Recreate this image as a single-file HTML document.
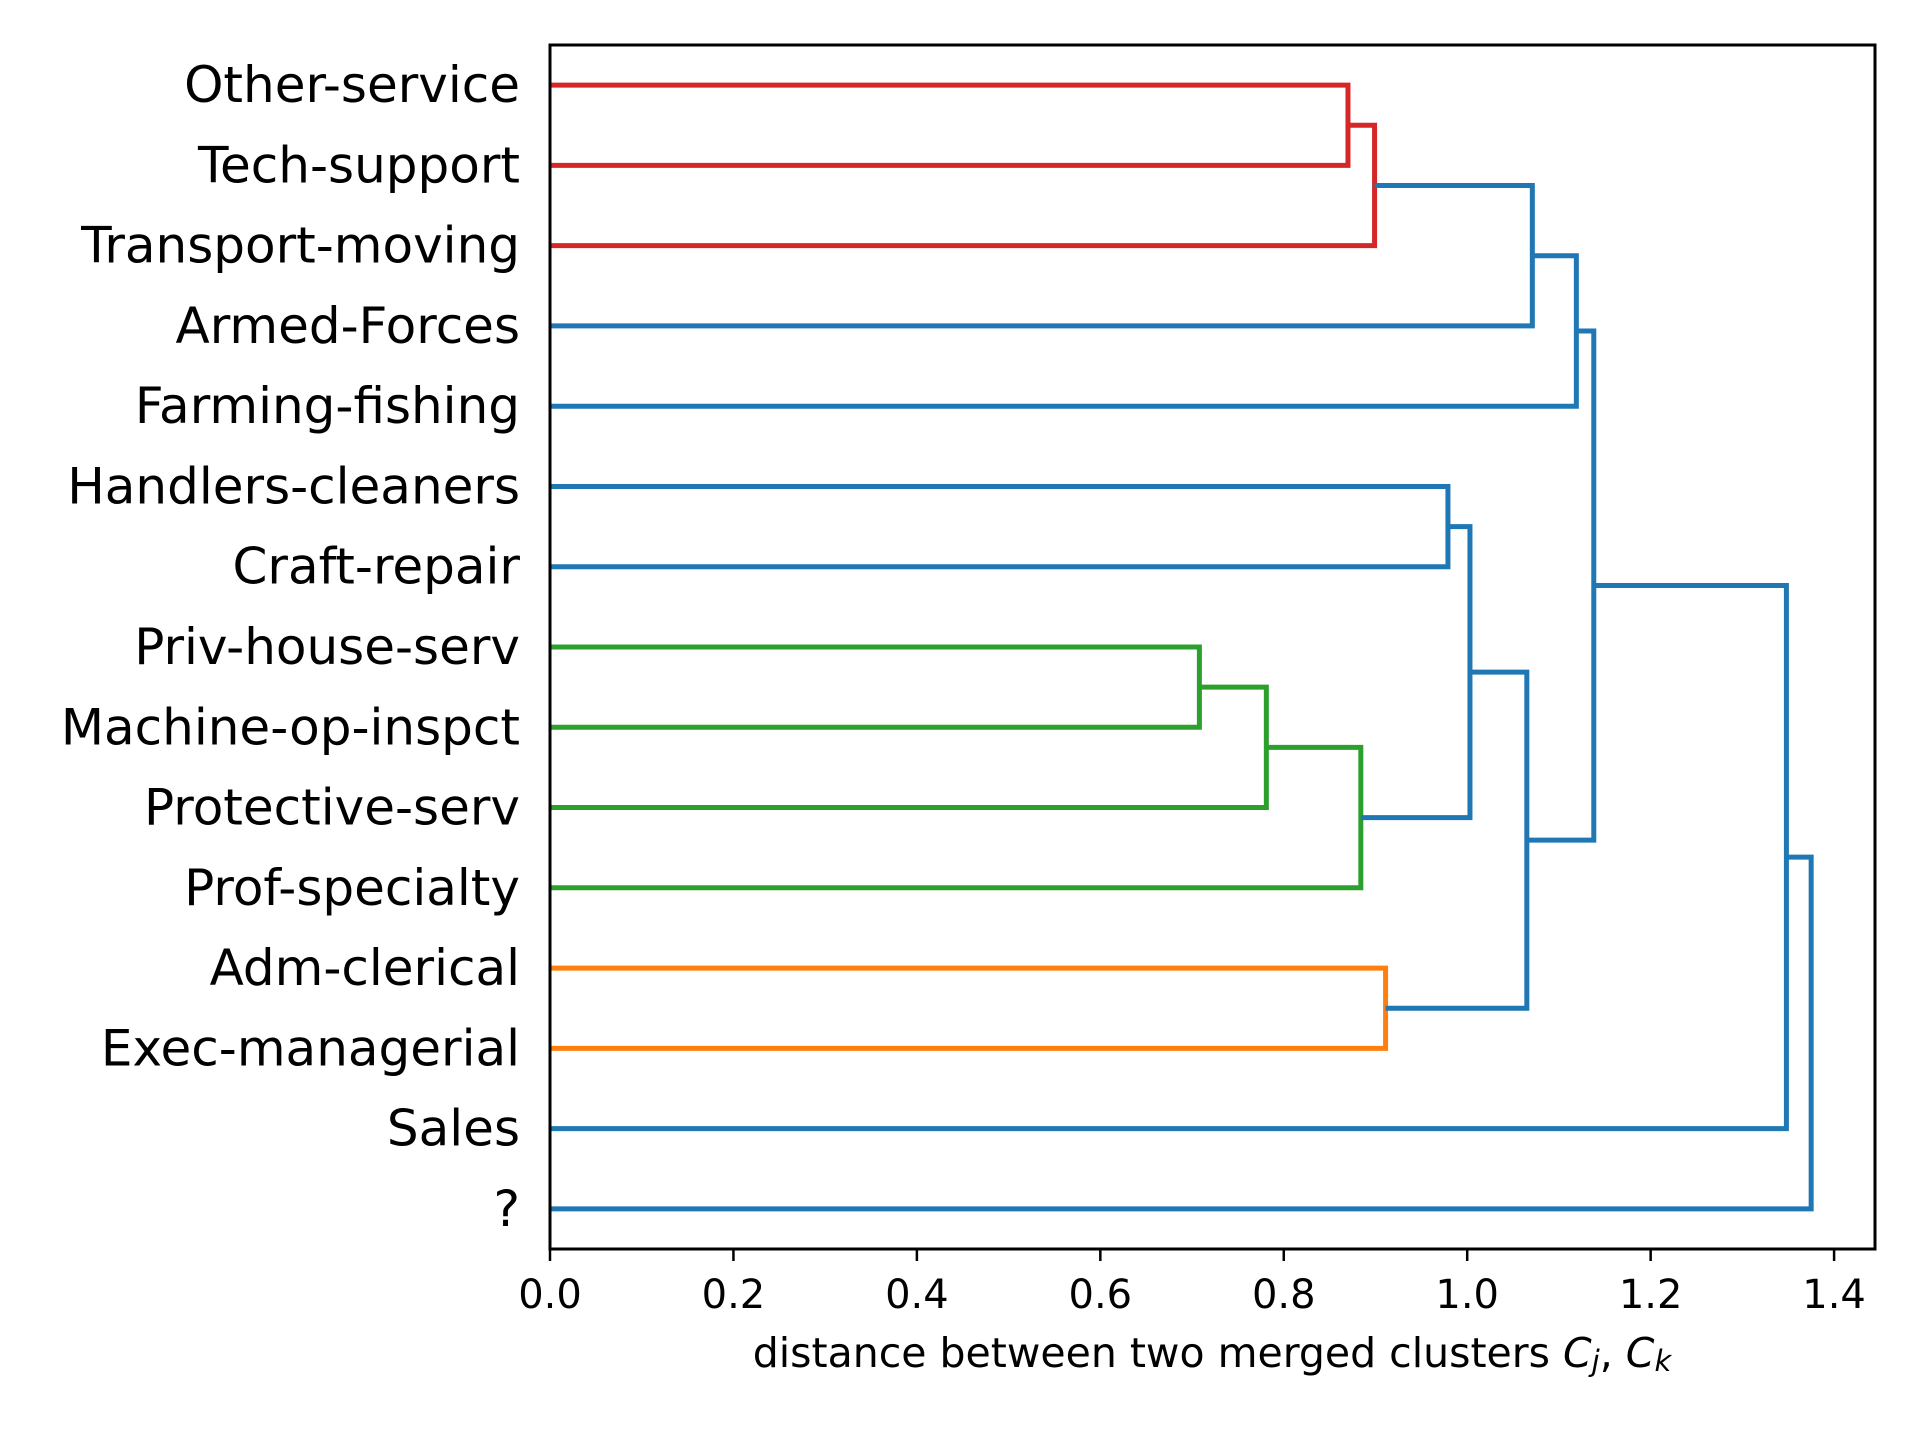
<!DOCTYPE html>
<html><head><meta charset="utf-8"><style>
html,body{margin:0;padding:0;background:#fff;}
svg{display:block;font-family:"DejaVu Sans","Liberation Sans",sans-serif;}
</style></head><body>
<svg id="chart" width="1920" height="1440" viewBox="0 0 1920 1440">
<rect x="0" y="0" width="1920" height="1440" fill="#fff"/>
<g id="links"></g>
<rect x="550" y="45" width="1325" height="1204" fill="none" stroke="#000" stroke-width="3"/>
<g id="yticks"></g>
<g id="xticks"></g>
<text x="1212" y="1353" font-size="41" text-anchor="middle" dominant-baseline="central">distance between two merged clusters <tspan font-style="italic">C</tspan><tspan font-style="italic" font-size="29" dy="8">j</tspan><tspan dy="-8">, </tspan><tspan font-style="italic">C</tspan><tspan font-style="italic" font-size="29" dy="8">k</tspan></text>
</svg>
<script>
const leaves = ["Other-service","Tech-support","Transport-moving","Armed-Forces","Farming-fishing","Handlers-cleaners","Craft-repair","Priv-house-serv","Machine-op-inspct","Protective-serv","Prof-specialty","Adm-clerical","Exec-managerial","Sales","?"];
const mergeLeft = [0,15,16,17,5,7,20,21,19,11,23,18,26,27];
const mergeRight = [1,2,3,4,6,8,9,10,22,12,24,25,13,14];
const mergeHeight = [0.870,0.899,1.071,1.119,0.979,0.708,0.781,0.884,1.003,0.911,1.065,1.138,1.348,1.375];
const mergeColor = ["red","red","blue","blue","blue","green","green","green","blue","orange","blue","blue","blue","blue"];
const xTicks = [0.0,0.2,0.4,0.6,0.8,1.0,1.2,1.4];
const xTickLabels = ["0.0","0.2","0.4","0.6","0.8","1.0","1.2","1.4"];

const palette = {red:"#d62728",green:"#2ca02c",orange:"#ff7f0e",blue:"#1f77b4"};
const X0=550, X1=1875, XMAX=1.4446, Y0=45, Y1=1249;
const xs = v => X0 + v/XMAX*(X1-X0);
const ys = i => Y0 + (5+10*i)/(10*leaves.length)*(Y1-Y0);
const NS="http://www.w3.org/2000/svg";
const links=document.getElementById('links');
const nodeY=[], nodeX=[];
leaves.forEach((l,i)=>{nodeY[i]=ys(i);nodeX[i]=xs(0);});
mergeHeight.forEach((h,k)=>{
  const a=mergeLeft[k], b=mergeRight[k], id=leaves.length+k;
  const xh=xs(h);
  nodeY[id]=(nodeY[a]+nodeY[b])/2; nodeX[id]=xh;
  const p=document.createElementNS(NS,'path');
  p.setAttribute('d',`M${nodeX[a]},${nodeY[a]}H${xh}V${nodeY[b]}H${nodeX[b]}`);
  p.setAttribute('fill','none');
  p.setAttribute('stroke',palette[mergeColor[k]]);
  p.setAttribute('stroke-width','5');
  
  
  links.appendChild(p);
});
const yt=document.getElementById('yticks');
leaves.forEach((l,i)=>{
  const t=document.createElementNS(NS,'text');
  t.setAttribute('x',520);t.setAttribute('y',ys(i));
  t.setAttribute('font-size','50');t.setAttribute('text-anchor','end');
  t.setAttribute('dominant-baseline','central');
  t.textContent=l;
  
  
  yt.appendChild(t);
});
const xt=document.getElementById('xticks');
xTicks.forEach((v,i)=>{
  const ln=document.createElementNS(NS,'line');
  ln.setAttribute('x1',xs(v));ln.setAttribute('x2',xs(v));
  ln.setAttribute('y1',Y1);ln.setAttribute('y2',Y1+12);
  ln.setAttribute('stroke','#000');ln.setAttribute('stroke-width','2.5');
  
  
  xt.appendChild(ln);
  const t=document.createElementNS(NS,'text');
  t.setAttribute('x',xs(v));t.setAttribute('y',1295);
  t.setAttribute('font-size','40');t.setAttribute('text-anchor','middle');
  t.setAttribute('dominant-baseline','central');
  t.textContent=xTickLabels[i];
  
  
  xt.appendChild(t);
});
</script>
</body></html>
